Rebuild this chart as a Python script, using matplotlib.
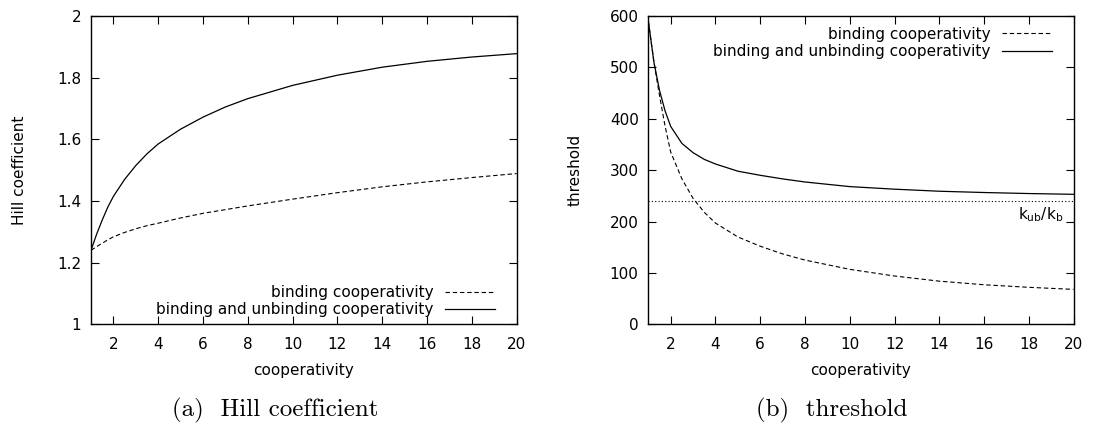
import matplotlib
matplotlib.use("Agg")
import matplotlib.pyplot as plt

plt.rcParams["font.family"] = ["DejaVu Sans"]
plt.rcParams["font.size"] = 11

# cooperativity values
coop = [1, 1.25, 1.5, 1.75, 2, 2.5, 3, 3.5, 4, 5, 6, 7, 8, 10, 12, 14, 16, 18, 20]

# (a) Hill coefficient
hill_binding = [1.24, 1.252, 1.263, 1.274, 1.284, 1.298, 1.310, 1.320, 1.328, 1.345, 1.360,
                1.372, 1.384, 1.406, 1.427, 1.446, 1.462, 1.476, 1.489]
hill_both = [1.24, 1.292, 1.338, 1.38, 1.415, 1.47, 1.515, 1.553, 1.585, 1.633, 1.672,
             1.705, 1.732, 1.775, 1.808, 1.834, 1.853, 1.867, 1.878]

# (b) threshold
thr_binding = [590, 510, 445, 385, 335, 283, 245, 218, 197, 170, 152, 137, 125, 107, 94,
               84, 77, 72, 68]
thr_both = [590, 510, 455, 415, 385, 352, 334, 321, 312, 298, 290, 283, 277, 268, 263,
            259, 256.5, 254.5, 253]
kub_over_kb = 240

x_ticks = [2, 4, 6, 8, 10, 12, 14, 16, 18, 20]
hill_ticks = [1, 1.2, 1.4, 1.6, 1.8, 2]
hill_ticklabels = ["1", "1.2", "1.4", "1.6", "1.8", "2"]
thr_ticks = [0, 100, 200, 300, 400, 500, 600]

labels = ["binding cooperativity", "binding and unbinding cooperativity"]
captions = ["(a)  Hill coefficient", "(b)  threshold"]

fig = plt.figure(figsize=(10.95, 4.26), dpi=100)
ax1 = fig.add_axes([0.0831, 0.2387, 0.3887, 0.7237])
ax2 = fig.add_axes([0.5921, 0.2387, 0.3883, 0.7237])

dash = (4, 2.5)


def style_axes(ax):
    ax.set_xlim(1, 20)
    ax.set_xticks(x_ticks)
    ax.tick_params(direction="in", top=True, right=True, length=5.5, width=0.8)
    ax.tick_params(axis="x", pad=9)
    ax.tick_params(axis="y", pad=7)
    for s in ax.spines.values():
        s.set_linewidth(1.0)
    ax.set_xlabel("cooperativity")
    ax.xaxis.set_label_coords(0.5, -0.149)
    ax.xaxis.label.set_va("center")


def add_legend(ax, loc, anchor):
    ax.legend(loc=loc, bbox_to_anchor=anchor, frameon=False,
              markerfirst=False, handlelength=3.3, handletextpad=0.76,
              labelspacing=0.15, borderpad=0, borderaxespad=0)


# left panel
ax1.plot(coop, hill_binding, color="black", lw=0.8, dashes=dash, label=labels[0])
ax1.plot(coop, hill_both, color="black", lw=0.9, label=labels[1])
style_axes(ax1)
ax1.set_ylim(1, 2)
ax1.set_yticks(hill_ticks)
ax1.set_yticklabels(hill_ticklabels)
ax1.set_ylabel("Hill coefficient", va="center")
ax1.yaxis.set_label_coords(-0.169, 0.5)
add_legend(ax1, "lower right", (0.95, 0.023))

# right panel
ax2.plot(coop, thr_binding, color="black", lw=0.8, dashes=dash, label=labels[0])
ax2.plot(coop, thr_both, color="black", lw=0.9, label=labels[1])
ax2.axhline(kub_over_kb, color="black", lw=0.8, dashes=(1, 2))
ax2.text(19.55, 232, r"k$_{\mathregular{ub}}$/k$_{\mathregular{b}}$", ha="right", va="top")
style_axes(ax2)
ax2.set_ylim(0, 600)
ax2.set_yticks(thr_ticks)
ax2.set_ylabel("threshold", va="center")
ax2.yaxis.set_label_coords(-0.172, 0.5)
add_legend(ax2, "upper right", (0.95, 0.965))

fig.text(275 / 1095, 1 - 410 / 426, captions[0], family="cmr10", fontsize=18,
         ha="center", va="center")
fig.text(832 / 1095, 1 - 410 / 426, captions[1], family="cmr10", fontsize=18,
         ha="center", va="center")

fig.savefig("out.png", dpi=100)
